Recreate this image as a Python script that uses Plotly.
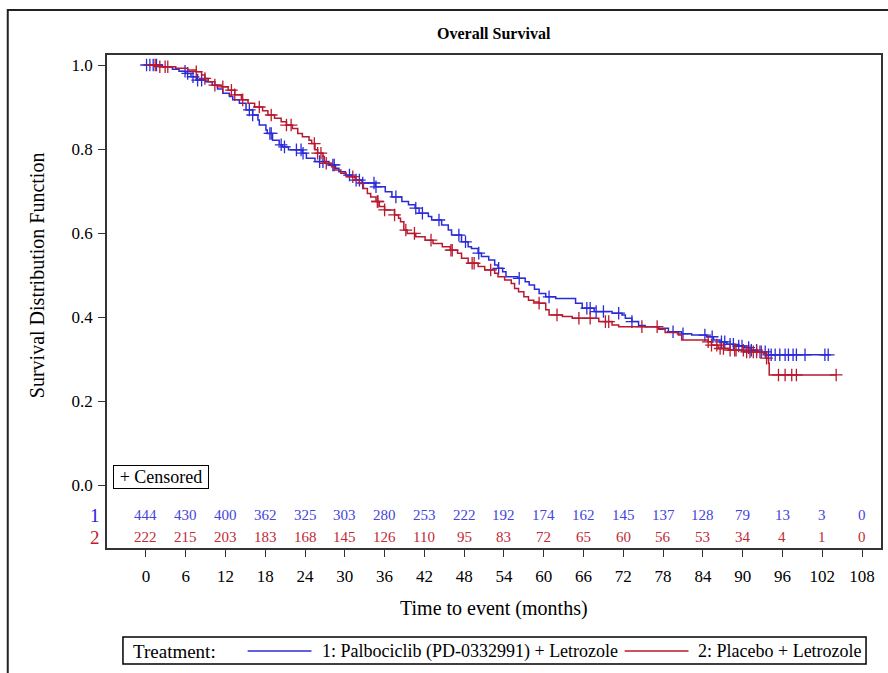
import numpy as np
import plotly.graph_objects as go

# ---------------- data ----------------
blue_t = [0, 2.5, 4.0, 5.0, 6.0, 6.8, 7.6, 9.0, 10.0, 10.8, 11.6, 12.6, 13.1, 14.1, 15.1, 16.1, 16.9, 17.1,
          18.1, 18.3, 19.1, 20.1, 20.6, 21.5, 23.6, 24.2, 25.5, 27.6, 28.6, 29.1, 30.1, 31.1, 31.6, 32.6,
          34.6, 36.1, 37.1, 38.6, 39.6, 40.6, 41.2, 42.6, 43.1, 44.6, 45.6, 46.1, 47.6, 48.6, 49.1, 50.1,
          50.6, 51.7, 52.6, 53.1, 53.8, 54.3, 56.1, 57.2, 57.8, 58.6, 59.3, 60.3, 61.8, 64.8, 65.8, 67.6,
          70.3, 71.8, 72.3, 73.3, 74.3, 75.3, 77.3, 78.8, 80.8, 82.3, 84.6, 85.6, 86.6, 87.6, 88.8, 90.3,
          91.3, 92.3, 93.5, 103.0]
blue_s = [1.0, 0.995, 0.99, 0.985, 0.98, 0.972, 0.964, 0.96, 0.952, 0.943, 0.933, 0.925, 0.917, 0.909, 0.893,
          0.881, 0.869, 0.857, 0.845, 0.837, 0.821, 0.81, 0.805, 0.798, 0.79, 0.778, 0.77, 0.762, 0.754,
          0.746, 0.738, 0.734, 0.726, 0.719, 0.71, 0.698, 0.686, 0.675, 0.667, 0.659, 0.647, 0.639, 0.631,
          0.619, 0.607, 0.595, 0.579, 0.567, 0.563, 0.552, 0.544, 0.536, 0.524, 0.516, 0.508, 0.496, 0.492,
          0.484, 0.476, 0.466, 0.456, 0.448, 0.444, 0.433, 0.421, 0.413, 0.409, 0.405, 0.397, 0.389, 0.38,
          0.377, 0.373, 0.365, 0.36, 0.357, 0.353, 0.345, 0.341, 0.335, 0.331, 0.327, 0.321, 0.317, 0.31,
          0.31]
blue_cens = [0.1, 0.6, 1.1, 1.6, 5.9, 6.3, 7.1, 7.8, 8.4, 15.6, 16.1, 18.7, 18.9, 20.4, 20.9, 22.7, 23.4,
             23.7, 26.2, 26.7, 28.2, 28.4, 30.7, 31.7, 32.2, 32.7, 34.4, 34.7, 37.7, 40.7, 41.7, 44.2, 47.2,
             48.2, 50.2, 53.2, 56.3, 60.8, 66.5, 67.0, 67.9, 69.0, 71.3, 73.3, 79.5, 81.0, 84.3, 85.4, 86.8,
             87.3, 88.1, 88.6, 89.4, 89.9, 90.9, 91.3, 92.1, 92.8, 93.4, 93.9, 94.3, 94.9, 95.6, 96.4, 96.9,
             97.6, 98.1, 99.4, 102.4, 102.9]

red_t = [0, 2.0, 4.5, 6.3, 7.6, 8.4, 8.9, 9.4, 10.4, 11.4, 12.4, 13.4, 14.4, 15.4, 16.4, 17.6, 18.4, 19.4,
         20.4, 21.2, 22.1, 22.9, 23.6, 24.6, 25.0, 25.5, 25.9, 26.7, 26.9, 28.0, 28.4, 29.4, 30.2, 31.6,
         32.2, 32.8, 33.4, 33.9, 34.7, 35.2, 36.0, 37.5, 38.1, 38.4, 38.9, 39.4, 40.7, 42.1, 43.3, 44.7,
         45.9, 47.0, 47.6, 48.6, 50.1, 51.1, 52.6, 53.1, 54.1, 55.1, 55.6, 56.2, 57.0, 57.7, 58.5, 59.3,
         60.3, 60.8, 62.8, 64.3, 68.3, 70.3, 71.3, 77.3, 78.3, 80.3, 80.8, 84.8, 85.3, 86.3, 87.8, 90.3,
         93.1, 93.6, 93.9, 94.0, 104.2]
red_s = [1.0, 0.996, 0.992, 0.988, 0.984, 0.976, 0.968, 0.96, 0.952, 0.948, 0.94, 0.929, 0.917, 0.909, 0.9,
         0.891, 0.881, 0.873, 0.865, 0.857, 0.849, 0.837, 0.829, 0.821, 0.813, 0.798, 0.79, 0.782, 0.766,
         0.758, 0.75, 0.742, 0.734, 0.726, 0.718, 0.706, 0.694, 0.686, 0.675, 0.663, 0.655, 0.643, 0.635,
         0.627, 0.607, 0.599, 0.591, 0.583, 0.575, 0.567, 0.559, 0.552, 0.54, 0.528, 0.52, 0.512, 0.504,
         0.496, 0.488, 0.48, 0.468, 0.46, 0.448, 0.44, 0.436, 0.433, 0.417, 0.405, 0.401, 0.397, 0.389,
         0.381, 0.377, 0.371, 0.363, 0.357, 0.345, 0.341, 0.333, 0.325, 0.321, 0.317, 0.313, 0.302, 0.29,
         0.262, 0.262]
red_cens = [1.4, 2.1, 2.9, 3.3, 7.6, 8.9, 10.4, 11.6, 12.9, 13.4, 14.6, 17.1, 18.9, 21.2, 21.9, 25.4, 25.9,
            26.4, 27.2, 31.2, 34.9, 35.0, 36.0, 37.5, 39.2, 40.5, 43.0, 46.0, 46.2, 49.2, 49.5, 52.0, 59.3,
            62.0, 65.3, 67.0, 69.3, 69.8, 74.8, 77.1, 84.8, 85.3, 86.1, 86.6, 87.1, 88.1, 88.8, 89.0, 90.1,
            90.6, 91.1, 91.6, 92.1, 92.6, 93.6, 95.4, 96.4, 97.4, 98.1, 104.1]

risk_times = list(range(0, 109, 6))
risk_blue = [444, 430, 400, 362, 325, 303, 280, 253, 222, 192, 174, 162, 145, 137, 128, 79, 13, 3, 0]
risk_red = [222, 215, 203, 183, 168, 145, 126, 110, 95, 83, 72, 65, 60, 56, 53, 34, 4, 1, 0]

y_ticks = [0.0, 0.2, 0.4, 0.6, 0.8, 1.0]
y_ticktext = ["0.0", "0.2", "0.4", "0.6", "0.8", "1.0"]

# ---------------- style ----------------
FONT = "Liberation Serif"
BLUE = "#2b2bd6"
RED = "#b8192e"
BLUE_TXT = "#4444dd"
RED_TXT = "#c02a36"

W, H = 888, 673
L, R, T, B = 107, 5, 55, 125
PW = W - L - R
PH = H - T - B


def px_x(x):
    return (x - L) / PW


def px_y(y):
    return (H - B - y) / PH


def step_lookup(times, surv, pts):
    idx = np.searchsorted(np.array(times), np.array(pts), side="right") - 1
    return np.array(surv)[idx]


fig = go.Figure()
for t, s, c, col in [(blue_t, blue_s, blue_cens, BLUE), (red_t, red_s, red_cens, RED)]:
    fig.add_trace(go.Scatter(x=t, y=s, mode="lines", line=dict(color=col, width=1.5, shape="hv"),
                             showlegend=False, hoverinfo="skip"))
    fig.add_trace(go.Scatter(x=c, y=step_lookup(t, s, c), mode="markers",
                             marker=dict(symbol="cross-thin", size=9, line=dict(color=col, width=1.3)),
                             showlegend=False, hoverinfo="skip"))

ann = []
# title
ann.append(dict(text="<b>Overall Survival</b>", xref="paper", yref="paper", x=0.5, y=px_y(33),
                showarrow=False, font=dict(family=FONT, size=16, color="black"), yanchor="middle"))
# y title
ann.append(dict(text="Survival Distribution Function", xref="paper", yref="y", x=px_x(37), y=0.5,
                textangle=-90, showarrow=False, font=dict(family=FONT, size=20, color="black"),
                xanchor="center", yanchor="middle"))
# x title
ann.append(dict(text="Time to event (months)", xref="paper", yref="paper", x=0.5, y=px_y(608),
                showarrow=False, font=dict(family=FONT, size=20, color="black"), yanchor="middle"))
# at-risk rows
ybl = (485 - 515) / 420
yrd = (485 - 537) / 420
for tt, nb, nr in zip(risk_times, risk_blue, risk_red):
    ann.append(dict(text=str(nb), x=tt, y=ybl, xref="x", yref="y", showarrow=False,
                    font=dict(family=FONT, size=15, color=BLUE_TXT)))
    ann.append(dict(text=str(nr), x=tt, y=yrd, xref="x", yref="y", showarrow=False,
                    font=dict(family=FONT, size=15, color=RED_TXT)))
ann.append(dict(text="1", x=px_x(88), y=ybl, xref="paper", yref="y", showarrow=False,
                font=dict(family=FONT, size=19, color="#2222dd")))
ann.append(dict(text="2", x=px_x(88), y=yrd, xref="paper", yref="y", showarrow=False,
                font=dict(family=FONT, size=19, color="#c01a2a")))
# censored box
ann.append(dict(text="+ Censored", x=px_x(113), y=px_y(477), xref="paper", yref="paper",
                xanchor="left", yanchor="middle", showarrow=False, bordercolor="black", borderwidth=1,
                borderpad=0, width=94, height=22, bgcolor="white",
                font=dict(family=FONT, size=18, color="black")))
# legend texts
ly = px_y(651)
ann.append(dict(text="Treatment:", x=px_x(131), y=ly, xref="paper", yref="paper", xanchor="left",
                yanchor="middle", showarrow=False, font=dict(family=FONT, size=19, color="black")))
ann.append(dict(text="1: Palbociclib (PD-0332991) + Letrozole", x=px_x(321), y=ly, xref="paper",
                yref="paper", xanchor="left", yanchor="middle", showarrow=False,
                font=dict(family=FONT, size=18, color="black")))
ann.append(dict(text="2: Placebo + Letrozole", x=px_x(698), y=ly, xref="paper", yref="paper",
                xanchor="left", yanchor="middle", showarrow=False,
                font=dict(family=FONT, size=18, color="black")))

shapes = [
    # outer frame
    dict(type="rect", xref="paper", yref="paper", x0=px_x(7.5), x1=px_x(900), y0=px_y(10), y1=px_y(690),
         line=dict(color="#222222", width=2)),
    # legend box
    dict(type="rect", xref="paper", yref="paper", x0=px_x(123), x1=px_x(868), y0=px_y(637), y1=px_y(664),
         line=dict(color="black", width=1.5)),
    dict(type="line", xref="paper", yref="paper", x0=px_x(248), x1=px_x(312), y0=ly, y1=ly,
         line=dict(color=BLUE, width=1.3)),
    dict(type="line", xref="paper", yref="paper", x0=px_x(626), x1=px_x(690), y0=ly, y1=ly,
         line=dict(color=RED, width=1.3)),
]

fig.update_layout(
    width=W, height=H, margin=dict(l=L, r=R, t=T, b=B),
    paper_bgcolor="white", plot_bgcolor="white",
    annotations=ann, shapes=shapes,
    font=dict(family=FONT, color="black"),
    xaxis=dict(range=[(107 - 146) / 6.648, (883 - 146) / 6.648], tickvals=risk_times,
               ticks="outside", ticklen=7, tickcolor="#333", tickwidth=1, ticklabelstandoff=5,
               showline=True, mirror=True, linecolor="#333", linewidth=1.5,
               showgrid=False, zeroline=False, tickfont=dict(family=FONT, size=17, color="black")),
    yaxis=dict(range=[(485 - 548) / 420, (485 - 55) / 420], tickvals=y_ticks, ticktext=y_ticktext,
               ticks="outside", ticklen=7, tickcolor="#333", tickwidth=1, ticklabelstandoff=2,
               showline=True, mirror=True, linecolor="#333", linewidth=1.5,
               showgrid=False, zeroline=False, tickfont=dict(family=FONT, size=17, color="black")),
)

fig.write_html("out.html")
